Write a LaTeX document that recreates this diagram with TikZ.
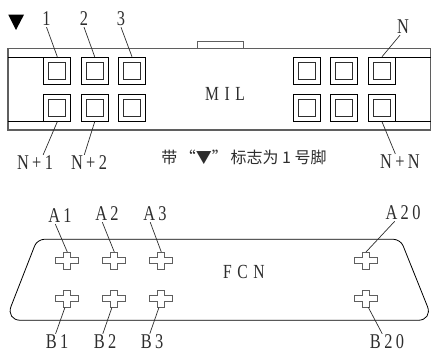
\documentclass[tikz,border=0pt]{standalone}
\usepackage{fontspec}
\usetikzlibrary{positioning,calc}
\newfontfamily\labelfont[FakeStretch=0.78,LetterSpace=16]{Liberation Serif}
\newfontfamily\titlefont[FakeStretch=0.78,LetterSpace=28]{Liberation Serif}
\newfontfamily\cjkfont{Noto Sans CJK SC}
\definecolor{inkgray}{RGB}{45,45,45}
\definecolor{shellgray}{RGB}{95,95,95}

\begin{document}
\begin{tikzpicture}[
    x=1pt, y=-1pt,
    shell/.style={draw=shellgray, line width=1.2pt},
    thinline/.style={draw=black, line width=0.8pt},
    leader/.style={draw=inkgray, line width=0.7pt},
    pinbox/.style={rectangle, draw=black, line width=0.9pt, minimum size=27pt, inner sep=0pt},
    pincore/.style={rectangle, draw=inkgray, line width=0.9pt, minimum size=17pt, inner sep=0pt},
    crosspin/.style={rectangle, minimum width=23pt, minimum height=17pt, inner sep=0pt},
    crossline/.style={draw=shellgray, line width=0.9pt},
    pinlabel/.style={font=\labelfont\fontsize{21}{21}\selectfont, text=inkgray, inner sep=1pt},
    titlelabel/.style={font=\titlefont\fontsize{20}{20}\selectfont, text=inkgray}
]
\useasboundingbox (0,0) rectangle (431,352);

% MIL body
\draw[shell] (8,130) -- (8,48.5) -- (430.5,48.5) -- (430.5,130) -- cycle;
\draw[shell, line width=0.9pt] (197,48.5) -- (197,41.5) -- (243,41.5) -- (243,48.5);
\draw[thinline] (8,57.5) -- (44,57.5);
\draw[thinline] (8,121.5) -- (44,121.5);
\draw[thinline] (395,57.5) -- (430.5,57.5);
\draw[thinline] (395,121.5) -- (430.5,121.5);

% index mark
\fill[black] (8.3,14.7) -- (24,14.7) -- (16,30) -- cycle;

% MIL pins
\foreach \x/\nm in {57.3/c1, 94.7/c2, 132/c3, 307/c4, 344.3/c5, 382/cn} {
    \node[pinbox] (\nm t) at (\x,70.7) {};
    \node[pincore] at (\x,70.9) {};
    \node[pinbox] (\nm b) at (\x,107.8) {};
    \node[pincore] at (\x,107.8) {};
}

% MIL labels
\node[pinlabel] (one)   at (46.5,19)  {1};
\node[pinlabel] (two)   at (84,19)    {2};
\node[pinlabel] (three) at (121,19)   {3};
\node[pinlabel] (enn)   at (403,27)   {N};
\node[pinlabel] (np1)   at (35,163)   {N+1};
\node[pinlabel] (np2)   at (89,163)   {N+2};
\node[pinlabel] (npn)   at (400,162)  {N+N};
\node[titlelabel] (mil) at (225,94)   {MIL};
\node[font=\cjkfont\fontsize{16}{16}\selectfont, text=inkgray] (note) at (244,157)
    {带\,“▼”\,标志为 1 号脚};

% MIL leaders
\draw[leader] (one.south) -- (c1t.north);
\draw[leader] (two.south) -- (c2t.north);
\draw[leader] (three.south) -- (c3t.north);
\draw[leader] (enn.250) -- (cnt.north);
\draw[leader] (np1.45) -- (c1b.south);
\draw[leader] (np2.120) -- (c2b.south);
\draw[leader] (npn.120) -- (cnb.south);

% FCN body
\draw[thinline, rounded corners=7pt] (200,239.3) -- (37.2,239.3)
    [rounded corners=15pt] -- (5.6,320.3) -- (433,320.3)
    [rounded corners=7pt] -- (400.5,239.3) -- cycle;

% FCN pins
\foreach \x/\y/\nm in {67.3/260.7/a1, 114.3/260.7/a2, 161.3/260.7/a3, 366/260.7/a20,
    67.3/298.7/b1, 114.3/298.7/b2, 161.3/298.7/b3, 366/298.7/b20} {
    \node[crosspin] (\nm) at (\x,\y) {};
    \draw[crossline] (\x,\y) ++(-3.5,-8.5) -- ++(7,0) -- ++(0,5) -- ++(8,0) -- ++(0,6.5)
        -- ++(-8,0) -- ++(0,5.5) -- ++(-7,0) -- ++(0,-5.5) -- ++(-8,0) -- ++(0,-6.5)
        -- ++(8,0) -- cycle;
}

% FCN labels
\node[pinlabel] (la1)  at (60,216)  {A1};
\node[pinlabel] (la2)  at (107,214) {A2};
\node[pinlabel] (la3)  at (155,214) {A3};
\node[pinlabel] (la20) at (403,213) {A20};
\node[pinlabel] (lb1)  at (57,342)  {B1};
\node[pinlabel] (lb2)  at (105,342) {B2};
\node[pinlabel] (lb3)  at (152,342) {B3};
\node[pinlabel] (lb20) at (387,342) {B20};
\node[titlelabel] (fcn) at (244,272) {FCN};

% FCN leaders
\draw[leader] (la1.240) -- (a1.north);
\draw[leader] (la2.240) -- (a2.north);
\draw[leader] (la3.240) -- (a3.north);
\draw[leader] (la20.225) -- (a20.north);
\draw[leader] (lb1.100) -- (b1.255);
\draw[leader] (lb2.105) -- (b2.255);
\draw[leader] (lb3.105) -- (b3.255);
\draw[leader] (lb20.120) -- (b20.285);

\end{tikzpicture}
\end{document}
